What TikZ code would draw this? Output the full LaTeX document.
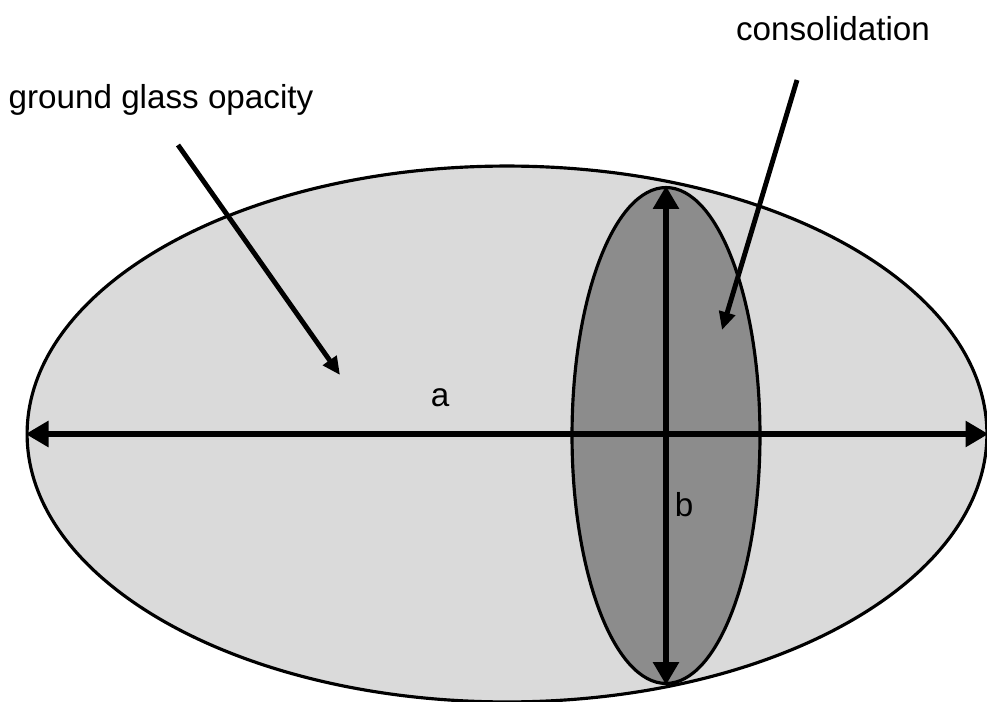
\documentclass[tikz,border=0pt]{standalone}
\usepackage{fontspec}
\setmainfont{Liberation Sans}
\usetikzlibrary{shapes.geometric,arrows.meta}
\definecolor{glassgray}{RGB}{218,218,218}
\definecolor{solidgray}{RGB}{140,140,140}

\begin{document}
\begin{tikzpicture}[x=0.02cm, y=-0.02cm,
  lesion/.style={ellipse, draw, line width=1.8pt, inner sep=0pt},
  axis/.style={{Triangle[length=0.46cm,width=0.5cm]}-{Triangle[length=0.46cm,width=0.5cm]}, line width=3.8pt},
  pointer/.style={-{Triangle[length=0.36cm,width=0.32cm]}, line width=2.8pt},
  lbl/.style={font=\fontsize{18.9}{22}\selectfont}]
\useasboundingbox (0,0) rectangle (987,702);

\node[lesion, fill=glassgray, minimum width=19.2cm, minimum height=10.72cm] (ggo) at (507,434) {};
\node[lesion, fill=solidgray, minimum width=3.76cm, minimum height=9.92cm] (cons) at (666,435.5) {};

\draw[axis] (ggo.west) -- (ggo.east);
\draw[axis] (cons.north) -- (cons.south);

\node[lbl] (alab) at (440,398) {a};
\node[lbl] (blab) at (684,505) {b};

\node[lbl] (ggolab) at (161,100) {ground glass opacity};
\node[lbl] (conslab) at (833,29) {consolidation};

\coordinate (ggotail) at (178,145);
\coordinate (ggohead) at (340,375);
\coordinate (constail) at (797,80);
\coordinate (conshead) at (722,330);
\draw[pointer] (ggotail) -- (ggohead);
\draw[pointer] (constail) -- (conshead);
\end{tikzpicture}
\end{document}
